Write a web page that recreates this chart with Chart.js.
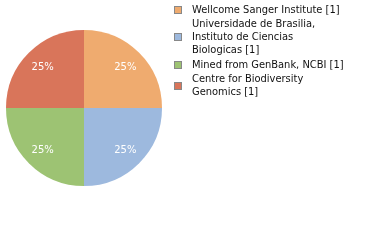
<!DOCTYPE html>
<html>
<head>
<meta charset="utf-8">
<script src="https://cdn.jsdelivr.net/npm/chart.js@4"></script>
<style>
  html, body { margin: 0; padding: 0; background: #fff; }
  #wrap { width: 380px; height: 240px; }
</style>
</head>
<body>
<div id="wrap"><canvas id="grafico" width="380" height="240"></canvas></div>
<script>
const categorias = [
  ['Wellcome Sanger Institute [1]'],
  ['Universidade de Brasilia,', 'Instituto de Ciencias', 'Biologicas [1]'],
  ['Mined from GenBank, NCBI [1]'],
  ['Centre for Biodiversity', 'Genomics [1]']
];
const valores = [1, 1, 1, 1];
const cores = ['#EFAB6F', '#9DB9DE', '#9DC373', '#D9755A'];

// rótulos de porcentagem dentro das fatias
const rotulosPlugin = {
  id: 'rotulos',
  afterDatasetsDraw(chart) {
    const ctx = chart.ctx;
    const meta = chart.getDatasetMeta(0);
    const total = valores.reduce((a, b) => a + b, 0);
    ctx.save();
    ctx.fillStyle = '#fff';
    ctx.font = '10px "DejaVu Sans"';
    ctx.textAlign = 'center';
    ctx.textBaseline = 'middle';
    meta.data.forEach((arc, i) => {
      const p = arc.getProps(['x', 'y', 'startAngle', 'endAngle', 'outerRadius'], true);
      const ang = (p.startAngle + p.endAngle) / 2;
      const r = p.outerRadius * 0.75;
      const pct = Math.round(valores[i] / total * 100) + '%';
      ctx.fillText(pct, p.x + Math.cos(ang) * r, p.y + Math.sin(ang) * r + 1);
    });
    ctx.restore();
  }
};

// legenda desenhada à direita
const legendaPlugin = {
  id: 'legenda',
  afterDraw(chart) {
    const ctx = chart.ctx;
    const lh = 13.2;
    let y = 10;
    ctx.save();
    ctx.font = '11px "DejaVu Sans Condensed"';
    ctx.textBaseline = 'middle';
    categorias.forEach((linhas, i) => {
      const meio = y + (linhas.length - 1) * lh / 2;
      ctx.fillStyle = cores[i];
      ctx.fillRect(174.5, Math.round(meio) - 3.5, 7, 7);
      ctx.strokeStyle = '#888';
      ctx.lineWidth = 1;
      ctx.strokeRect(174.5, Math.round(meio) - 3.5, 7, 7);
      ctx.fillStyle = '#111';
      linhas.forEach((l, j) => ctx.fillText(l, 192, y + j * lh));
      y += linhas.length * lh + 1;
    });
    ctx.restore();
  }
};

const grafico = new Chart(document.getElementById('grafico').getContext('2d'), {
  type: 'pie',
  data: {
    labels: categorias.map(c => c.join(' ')),
    datasets: [{
      data: valores,
      backgroundColor: cores,
      borderWidth: 0
    }]
  },
  options: {
    responsive: false,
    animation: false,
    layout: { padding: { left: 6, right: 218, top: 30, bottom: 54 } },
    plugins: {
      legend: { display: false },
      tooltip: { enabled: false }
    }
  },
  plugins: [rotulosPlugin, legendaPlugin]
});
</script>
</body>
</html>
